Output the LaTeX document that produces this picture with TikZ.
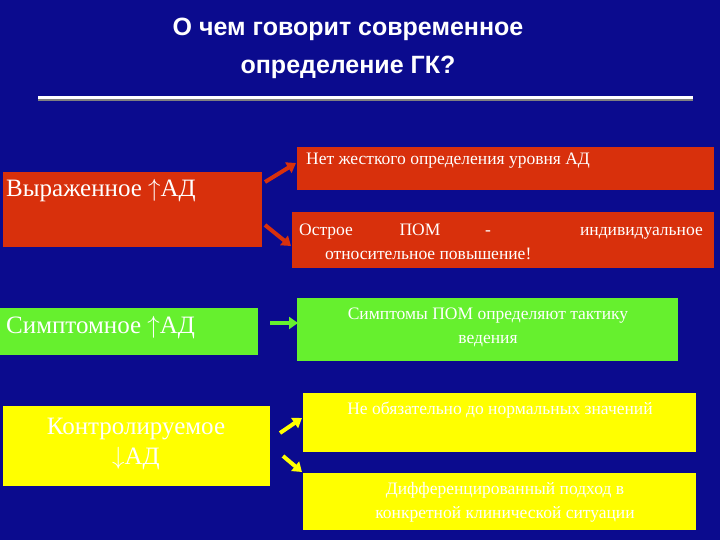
\documentclass[tikz,border=0pt]{standalone}
\usepackage{fontspec}
\setmainfont{Liberation Serif}
\newfontfamily\titlefont{Liberation Sans}
\usetikzlibrary{arrows.meta}
\definecolor{bg}{HTML}{0B0B8E}
\definecolor{rd}{HTML}{D8300C}
\definecolor{gr}{HTML}{66F02E}
\definecolor{ye}{HTML}{FFFF00}
\tikzset{
 box/.style={anchor=north west,inner sep=0pt,outer sep=0pt},
 lbl/.style={text=white,font=\fontsize{17.5}{24}\selectfont,align=center,inner sep=0pt},
 bigl/.style={text=white,font=\fontsize{25}{30}\selectfont,align=center,inner sep=0pt},
 arr/.style={line width=4pt,-{Triangle[length=9pt,width=12pt]}},
}
\begin{document}
\begin{tikzpicture}[x=1pt,y=-1pt]
\fill[bg] (0,0) rectangle (720,540);
\node[text=white,font=\titlefont\bfseries\fontsize{25}{38}\selectfont,align=center] (title) at (348,48) {О чем говорит современное\\определение ГК?};
\coordinate (la) at (38,98); \coordinate (lb) at (693,98);
\draw[gray,line width=3pt] ([yshift=-2]la) -- ([yshift=-2]lb);
\draw[white,line width=3pt] (la) -- (lb);
% red
\fill[rd] (3,172) rectangle (262,247);
\node[bigl,anchor=west] (r0) at (6,191) {Выраженное $\uparrow$АД};
\fill[rd] (297,147) rectangle (714,190);
\node[lbl,anchor=west] (r1) at (306,161) {Нет жесткого определения уровня АД};
\fill[rd] (292,212) rectangle (714,268);
\node[lbl,anchor=base west] (r2a) at (299,236) {Острое};
\node[lbl,anchor=base] (r2b) at (420,236) {ПОМ};
\node[lbl,anchor=base] (r2c) at (488,236) {-};
\node[lbl,anchor=base east] (r2d) at (703,236) {индивидуальное};
\node[lbl,anchor=base west] (r2e) at (325,259) {относительное повышение!};
\coordinate (ra) at (265,182); \coordinate (rb) at (296,163);
\coordinate (rc) at (265,225); \coordinate (rd2) at (291,246);
\draw[arr,rd] (ra) -- (rb);
\draw[arr,rd] (rc) -- (rd2);
% green
\fill[gr] (0,308) rectangle (258,355);
\node[bigl,anchor=west] (g0) at (6,328) {Симптомное $\uparrow$АД};
\fill[gr] (297,298) rectangle (678,361);
\node[lbl] (g1) at (488,327) {Симптомы ПОМ определяют тактику\\ведения};
\coordinate (ga) at (270,323); \coordinate (gb) at (298,323);
\draw[arr,gr] (ga) -- (gb);
% yellow
\fill[ye] (3,406) rectangle (270,486);
\node[bigl] (y0) at (136,444) {Контролируемое\\$\downarrow$АД};
\fill[ye] (303,393) rectangle (696,452);
\node[lbl] (y1) at (500,410) {Не обязательно до нормальных значений};
\fill[ye] (303,473) rectangle (696,530);
\node[lbl] (y2) at (505,502) {Дифференцированный подход в\\конкретной клинической ситуации};
\coordinate (ya) at (280,433); \coordinate (yb) at (302,418);
\coordinate (yc) at (283,456); \coordinate (yd) at (302,472);
\draw[arr,ye] (ya) -- (yb);
\draw[arr,ye] (yc) -- (yd);
\end{tikzpicture}
\end{document}
